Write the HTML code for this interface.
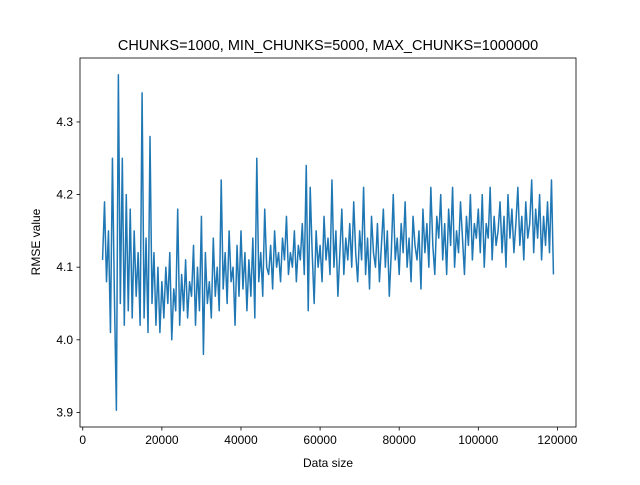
<!DOCTYPE html>
<html><head><meta charset="utf-8"><style>
body{margin:0;background:#fff;}
svg text{font-family:"Liberation Sans","DejaVu Sans",sans-serif;fill:#000;}
</style></head><body>
<svg id="chart" width="640" height="480" xmlns="http://www.w3.org/2000/svg">
<rect x="0" y="0" width="640" height="480" fill="#fff"/>
<text x="328" y="50" font-size="14.5" text-anchor="middle">CHUNKS=1000, MIN_CHUNKS=5000, MAX_CHUNKS=1000000</text>
<g id="plot"></g>
<g id="axes"></g>
<text x="328" y="467" font-size="12" text-anchor="middle">Data size</text>
<text x="0" y="0" font-size="12" text-anchor="middle" transform="translate(40,242) rotate(-90)">RMSE value</text>
</svg>
<script>
const xStart = 5000;
const xStep = 500;
const rmseValues = [
4.11,4.19,4.08,4.15,4.01,4.25,4.06,3.903,4.365,4.05,
4.25,4.02,4.20,4.04,4.18,4.03,4.15,4.06,4.12,4.02,
4.34,4.03,4.14,4.01,4.28,4.05,4.12,4.02,4.10,4.01,
4.08,4.03,4.10,4.05,4.12,4.00,4.07,4.04,4.18,4.02,
4.09,4.04,4.11,4.03,4.08,4.06,4.13,4.02,4.10,4.04,
4.17,3.98,4.12,4.05,4.08,4.03,4.14,4.06,4.10,4.04,
4.22,4.07,4.12,4.05,4.15,4.08,4.10,4.02,4.13,4.06,
4.15,4.07,4.12,4.04,4.11,4.06,4.14,4.03,4.25,4.08,
4.12,4.06,4.18,4.10,4.09,4.13,4.07,4.15,4.10,4.12,
4.08,4.14,4.11,4.17,4.09,4.12,4.10,4.15,4.08,4.13,
4.11,4.16,4.09,4.24,4.04,4.21,4.12,4.05,4.15,4.10,
4.13,4.08,4.17,4.11,4.14,4.09,4.22,4.10,4.15,4.06,
4.12,4.18,4.09,4.14,4.11,4.16,4.10,4.19,4.12,4.08,
4.15,4.11,4.21,4.09,4.14,4.07,4.17,4.12,4.10,4.16,
4.08,4.13,4.18,4.10,4.15,4.06,4.12,4.20,4.11,4.14,
4.09,4.16,4.12,4.19,4.10,4.14,4.08,4.17,4.13,4.11,
4.15,4.07,4.18,4.12,4.16,4.10,4.21,4.13,4.09,4.17,
4.14,4.20,4.11,4.16,4.09,4.18,4.13,4.21,4.10,4.15,
4.12,4.19,4.14,4.09,4.17,4.13,4.20,4.11,4.16,4.14,
4.18,4.12,4.20,4.10,4.16,4.14,4.21,4.11,4.17,4.13,
4.15,4.19,4.12,4.17,4.10,4.20,4.14,4.18,4.12,4.16,
4.21,4.13,4.17,4.11,4.19,4.14,4.16,4.22,4.12,4.18,
4.14,4.20,4.11,4.17,4.13,4.19,4.12,4.22,4.09
];
const xTicks = [0,20000,40000,60000,80000,100000,120000];
const xTickLabels = ["0","20000","40000","60000","80000","100000","120000"];
const yTicks = [3.9,4.0,4.1,4.2,4.3];
const yTickLabels = ["3.9","4.0","4.1","4.2","4.3"];

const L=80,R=576,T=58,B=427;
const NS="http://www.w3.org/2000/svg";
const xs = rmseValues.map((v,i)=>xStart+i*xStep);
const xmin0=Math.min(...xs), xmax0=Math.max(...xs);
const ymin0=Math.min(...rmseValues), ymax0=Math.max(...rmseValues);
const xm=(xmax0-xmin0)*0.05, ym=(ymax0-ymin0)*0.05;
const xMin=xmin0-xm, xMax=xmax0+xm, yMin=ymin0-ym, yMax=ymax0+ym;
function sx(v){return L+(v-xMin)/(xMax-xMin)*(R-L);}
function sy(v){return B-(v-yMin)/(yMax-yMin)*(B-T);}
const plot=document.getElementById('plot');
const axes=document.getElementById('axes');
const line=document.createElementNS(NS,'polyline');


line.setAttribute('points',rmseValues.map((v,i)=>sx(xs[i]).toFixed(2)+','+sy(v).toFixed(2)).join(' '));
line.setAttribute('fill','none');
line.setAttribute('stroke','#1f77b4');
line.setAttribute('stroke-width','1.5');
line.setAttribute('stroke-linejoin','round');
plot.appendChild(line);
const frame=document.createElementNS(NS,'rect');


frame.setAttribute('x',L);frame.setAttribute('y',T);
frame.setAttribute('width',R-L);frame.setAttribute('height',B-T);
frame.setAttribute('fill','none');frame.setAttribute('stroke','#000');frame.setAttribute('stroke-width','0.8');
axes.appendChild(frame);
xTicks.forEach((t,i)=>{
  const x=sx(t);
  const tk=document.createElementNS(NS,'line');
  
  
  tk.setAttribute('x1',x);tk.setAttribute('x2',x);tk.setAttribute('y1',B);tk.setAttribute('y2',B+3.5);
  tk.setAttribute('stroke','#000');tk.setAttribute('stroke-width','0.8');
  axes.appendChild(tk);
  const tx=document.createElementNS(NS,'text');
  
  
  tx.setAttribute('x',x);tx.setAttribute('y',B+17);
  tx.setAttribute('font-size','12');tx.setAttribute('text-anchor','middle');
  tx.textContent=xTickLabels[i];
  axes.appendChild(tx);
});
yTicks.forEach((t,i)=>{
  const y=sy(t);
  const tk=document.createElementNS(NS,'line');
  
  
  tk.setAttribute('x1',L-3.5);tk.setAttribute('x2',L);tk.setAttribute('y1',y);tk.setAttribute('y2',y);
  tk.setAttribute('stroke','#000');tk.setAttribute('stroke-width','0.8');
  axes.appendChild(tk);
  const tx=document.createElementNS(NS,'text');
  
  
  tx.setAttribute('x',L-7);tx.setAttribute('y',y+4);
  tx.setAttribute('font-size','12');tx.setAttribute('text-anchor','end');
  tx.textContent=yTickLabels[i];
  axes.appendChild(tx);
});
</script>
</body></html>
